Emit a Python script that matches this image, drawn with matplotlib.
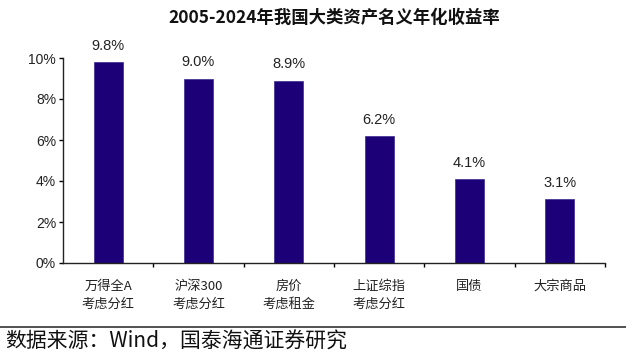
import matplotlib
matplotlib.use("Agg")
from matplotlib import pyplot as plt
import numpy as np

plt.rcParams['font.family'] = ['Noto Sans CJK SC', 'DejaVu Sans']

categories = ["万得全A\n考虑分红", "沪深300\n考虑分红", "房价\n考虑租金",
              "上证综指\n考虑分红", "国债", "大宗商品"]
returns = [9.8, 9.0, 8.9, 6.2, 4.1, 3.1]
yticks = [0, 2, 4, 6, 8, 10]

fig = plt.figure(figsize=(6.26, 3.64), dpi=100)
ax = fig.add_axes([63 / 626, 1 - 263 / 364, 542 / 626, 205 / 364])

x = np.arange(len(categories))
ax.bar(x, returns, width=0.32, color="#1c0078", edgecolor="#3a2a8c", linewidth=0.5)

for xi, v in zip(x, returns):
    ax.text(xi, v + 0.45, f"{v:.1f}%", ha="center", va="bottom", fontsize=10.5,
            family="Liberation Sans", color="#222222")

ax.set_xlim(-0.5, len(categories) - 0.5)
ax.set_ylim(0, 10)
ax.set_yticks(yticks)
ax.set_yticklabels([f"{t}%" for t in yticks], family="Liberation Sans", fontsize=10, color="#222222")

# ticks at category boundaries, labels centred under bars
ax.set_xticks(np.arange(len(categories)) + 0.5)
ax.set_xticklabels([])
ax.set_xticks(x, minor=True)
ax.set_xticklabels(categories, minor=True, fontsize=9.5, linespacing=1.55, color="#222222")
ax.tick_params(axis="x", which="minor", length=0, pad=12)
ax.tick_params(axis="x", which="major", length=3, width=1)
ax.tick_params(axis="y", length=3, width=1, pad=2)

for s in ["top", "right"]:
    ax.spines[s].set_visible(False)
for s in ["left", "bottom"]:
    ax.spines[s].set_linewidth(1)
    ax.spines[s].set_color("#222222")

fig.text(334 / 626, 1 - 18 / 364, "2005-2024年我国大类资产名义年化收益率", ha="center", va="center",
         fontsize=12.5, fontweight="bold", color="#111111")

fig.add_artist(plt.Line2D([0, 1], [1 - 327 / 364, 1 - 327 / 364], color="#333333", linewidth=1.2))
fig.text(5 / 626, 1 - 342 / 364, "数据来源：Wind，国泰海通证券研究", ha="left", va="center",
         fontsize=15, color="#111111")

fig.savefig("out.png", dpi=100)
